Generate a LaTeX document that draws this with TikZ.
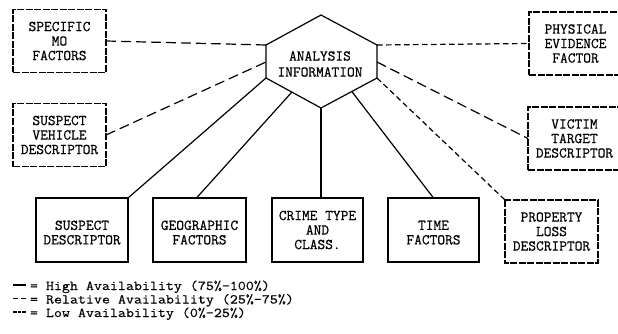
\documentclass[tikz,border=0pt]{standalone}
\usepackage{fontspec}
\usetikzlibrary{calc}
\newfontfamily\boxfont{Latin Modern Mono}[FakeBold=0.6]
\newfontfamily\legendfont{Latin Modern Mono}[FakeBold=0.4, FakeStretch=1.15]
\begin{document}
\begin{tikzpicture}[x=1pt,y=-1pt,
  every node/.style={inner sep=0pt, outer sep=0pt},
  factorbox/.style={draw, line width=1.1pt, minimum width=93pt, minimum height=63pt,
    align=center, font=\boxfont\fontsize{15}{14.5}\selectfont},
  sidebox/.style={factorbox, dash pattern=on 7pt off 1.5pt},
  high/.style={line width=1.2pt},
  relative/.style={line width=1.2pt, dash pattern=on 10pt off 5pt},
  low/.style={line width=1.2pt, dash pattern=on 5.5pt off 3.5pt},
  legendtext/.style={anchor=west, text height=8pt, text depth=2pt,
    font=\legendfont\fontsize{13.5}{13.5}\selectfont}]
\useasboundingbox[fill=white] (0,0) rectangle (618,334);

% central hexagon
\coordinate (hT)  at (321,15);
\coordinate (hUL) at (266,45);
\coordinate (hUR) at (377,45);
\coordinate (hLL) at (266,78);
\coordinate (hLR) at (377,78);
\coordinate (hB)  at (321,108);
\coordinate (hL2) at (266,62);
\coordinate (hR2) at (377,62);
\coordinate (hGeo)  at ($(hLL)!0.47!(hB)$);
\coordinate (hTime) at ($(hB)!0.55!(hLR)$);
\draw[high] (hT) -- (hUR) -- (hLR) -- (hB) -- (hLL) -- (hUL) -- cycle;
\node[align=center, font=\boxfont\fontsize{15}{16}\selectfont] (ana) at (320,64)
  {ANALYSIS\\INFORMATION};

% side boxes (dashed borders)
\node[sidebox] (mo)   at (59.5,41)   {SPECIFIC\\MO\\FACTORS};
\node[sidebox] (veh)  at (59.5,135)  {SUSPECT\\VEHICLE\\DESCRIPTOR};
\node[sidebox] (phys) at (575.5,43.5){PHYSICAL\\EVIDENCE\\FACTOR};
\node[sidebox] (vict) at (574.5,138.5){VICTIM\\TARGET\\DESCRIPTOR};

% bottom boxes
\node[factorbox, minimum width=92pt, minimum height=64pt] (susp)  at (82,230)   {\mbox{}\\SUSPECT\\DESCRIPTOR};
\node[factorbox, minimum height=64pt] (geo)   at (199.5,230) {\mbox{}\\GEOGRAPHIC\\FACTORS};
\node[factorbox, minimum width=91pt, minimum height=64pt] (crime) at (317.5,230) {CRIME TYPE\\AND\\CLASS.};
\node[factorbox, minimum width=91pt, minimum height=64pt] (time)  at (433.5,230) {\mbox{}\\TIME\\FACTORS};
\node[sidebox, draw=none, minimum height=63pt] (prop) at (551.5,231.5) {PROPERTY\\LOSS\\DESCRIPTOR};
\draw[line width=1.1pt, dash pattern=on 7pt off 1.5pt] (prop.north west) rectangle (prop.south east);

% connectors
\draw[relative] (mo.east) -- (hUL);
\draw[relative] (veh.east) -- (hL2);
\draw[low] (hUR) -- (phys.west);
\draw[relative] (hR2) -- (vict.west);
\draw[high] (hLL) -- (susp.north east);
\draw[high] (hGeo) -- ($(geo.north)+(-3,0)$);
\draw[high] (hB) -- (hB |- crime.north);
\draw[high] (hTime) -- (time.north);
\draw[low] (hLR) -- (prop.north west);

% legend
\node[legendtext] (leg1) at (30,287) {= High Availability (75\%-100\%)};
\node[legendtext] (leg2) at (30,300.5) {= Relative Availability (25\%-75\%)};
\node[legendtext] (leg3) at (30,314) {= Low Availability (0\%-25\%)};
\draw[high] (13,285) -- (26,285);
\draw[line width=1.2pt, dash pattern=on 5pt off 3pt] (13,298.5) -- (26,298.5);
\draw[line width=1.2pt, dash pattern=on 3.6pt off 1.1pt] (13,312) -- (26,312);
\end{tikzpicture}
\end{document}
